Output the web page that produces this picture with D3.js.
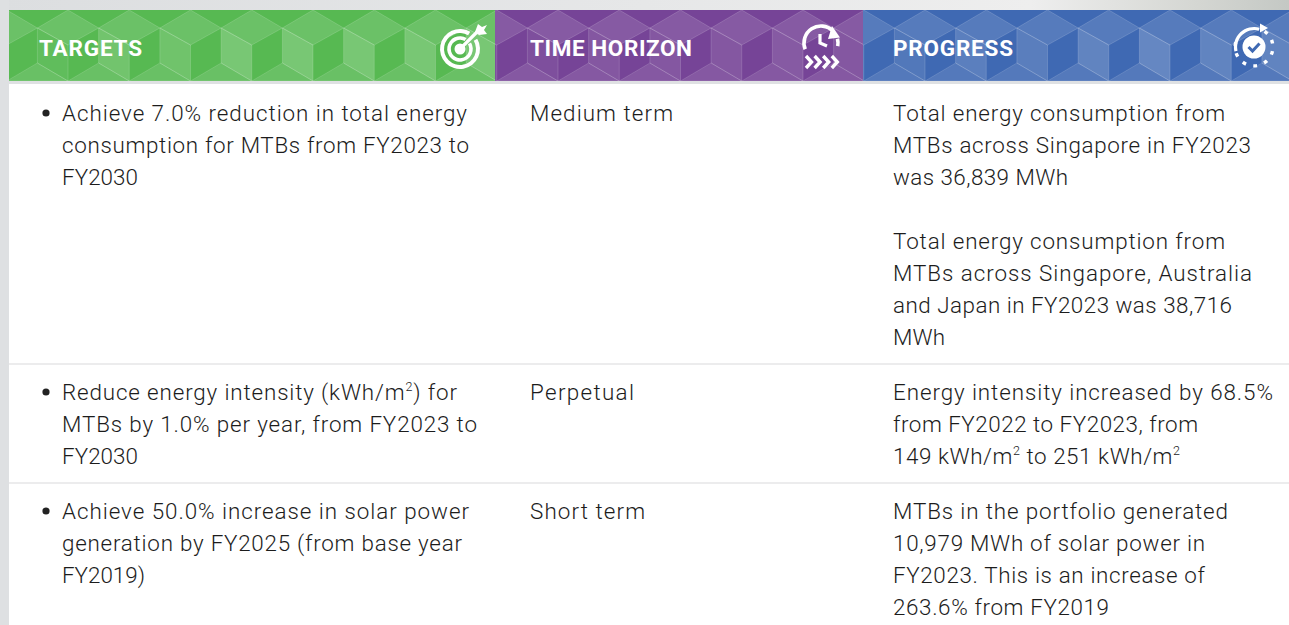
<!DOCTYPE html>
<html><head><meta charset="utf-8">
<script src="https://cdnjs.cloudflare.com/ajax/libs/d3/7.8.5/d3.min.js"></script>
<style>html,body{margin:0;padding:0;background:#fff;overflow:hidden}svg{display:block}</style>
</head><body><svg id="c" width="1289" height="625"></svg>
<script>
// ---- content ----
const headers = ["TARGETS", "TIME HORIZON", "PROGRESS"];
const targetLines = [
  ["Achieve 7.0% reduction in total energy", "consumption for MTBs from FY2023 to", "FY2030"],
  ["Reduce energy intensity (kWh/m^2) for", "MTBs by 1.0% per year, from FY2023 to", "FY2030"],
  ["Achieve 50.0% increase in solar power", "generation by FY2025 (from base year", "FY2019)"]
];
const horizons = ["Medium term", "Perpetual", "Short term"];
const progressLines = [
  ["Total energy consumption from", "MTBs across Singapore in FY2023", "was 36,839 MWh", "", "Total energy consumption from", "MTBs across Singapore, Australia", "and Japan in FY2023 was 38,716", "MWh"],
  ["Energy intensity increased by 68.5%", "from FY2022 to FY2023, from", "149 kWh/m^2 to 251 kWh/m^2"],
  ["MTBs in the portfolio generated", "10,979 MWh of solar power in", "FY2023. This is an increase of", "263.6% from FY2019"]
];
// ---- layout ----
const targetEnds = [[467,469,138],[457,477,138],[469,462,145]];
const horizonEnds = [673,634,645];
const progressEnds = [[1225,1251,1068,0,1225,1252,1232,945],[1273,1198,1180],[1228,1205,1205,1109]];
const headerEnds = [142,692,1013];
const W = 1289, H = 625;
const svg = d3.select("#c");
const FONT = "Roboto";
const defs = svg.append("defs");
const g1 = defs.append("linearGradient").attr("id","topbg").attr("x1",0).attr("x2",1).attr("y1",0).attr("y2",0);
[[0,"#dcdee0"],[.5,"#e6e7e8"],[.8,"#eeeeee"],[.93,"#d4d6d2"],[1,"#c4c8c4"]].forEach(s=>g1.append("stop").attr("offset",s[0]).attr("stop-color",s[1]));
svg.append("rect").attr("width",W).attr("height",H).attr("fill","#fff");
svg.append("rect").attr("width",W).attr("height",10).attr("fill","url(#topbg)");
svg.append("rect").attr("width",9).attr("height",H).attr("fill","#dee0e2");
svg.append("rect").attr("x",9).attr("y",81).attr("width",W-9).attr("height",3).attr("fill","#dfe1e3");

function fit(t, x, end){
  if(!end) return;
  const n=t.text().length, len=t.node().getComputedTextLength();
  t.attr("letter-spacing",(end-x-len)/Math.max(n-1,1));
}

const cols = [
  {x:9,  w:486, base:"#57b952", apex0:68,  label:39, n:8},
  {x:495,w:368, base:"#764497", apex0:558, label:530, n:6},
  {x:863,w:426, base:"#3f69b3", apex0:925, label:893, n:7}
];
const period = 61.25, yTop=10, yBot=81, qh=18, yMid=45, yLo=63;
const faceOpacity = [[.06,.16,.15,.2,.2,.2,.2,.2],[.06,.1,.1,.1,.12,.1],[.1,.15,.14,.18,.2,.18,.18]];
cols.forEach((c,i)=>{
  const id="clip"+i;
  defs.append("clipPath").attr("id",id).append("rect").attr("x",c.x).attr("y",yTop).attr("width",c.w).attr("height",yBot-yTop);
  const g=svg.append("g").attr("clip-path",`url(#${id})`);
  g.append("rect").attr("x",c.x).attr("y",yTop).attr("width",c.w).attr("height",yBot-yTop).attr("fill",c.base);
  const ks=d3.range(-1,c.n);
  const p=period/2;
  const line=d3.line();
  g.selectAll(".t").data(ks).join("path").attr("d",k=>{const a=c.apex0+k*period;return line([[a,yTop],[a+p,yTop+qh],[a,yMid],[a-p,yTop+qh]])+"Z";})
    .attr("fill","#fff").attr("fill-opacity",.12).attr("stroke","#fff").attr("stroke-opacity",.22).attr("stroke-width",.7);
  g.selectAll(".l").data(ks).join("path").attr("d",k=>{const a=c.apex0+k*period;return line([[a-p,yTop+qh],[a,yMid],[a,yBot],[a-p,yLo]])+"Z";})
    .attr("fill","#fff").attr("fill-opacity",k=>faceOpacity[i][Math.max(k,0)]).attr("stroke","#fff").attr("stroke-opacity",.22).attr("stroke-width",.7);
  g.selectAll(".b").data(ks).join("path").attr("d",k=>{const a=c.apex0+k*period+p;return line([[a,yLo],[a+p,yBot],[a-p,yBot]])+"Z";})
    .attr("fill","#fff").attr("fill-opacity",.11).attr("stroke","#fff").attr("stroke-opacity",.2).attr("stroke-width",.7);
  const t=svg.append("text").attr("x",c.label).attr("y",56).text(headers[i])
    .attr("font-family",FONT).attr("font-weight",700).attr("font-size",22.5).attr("fill","#fff");
  fit(t,c.label,headerEnds[i]);
});

// icons
const arc=d3.arc();
const PI=Math.PI;
function ring(g,r,w,a0,a1,round){g.append("path").attr("d",arc({innerRadius:r-w/2,outerRadius:r+w/2,startAngle:a0,endAngle:a1,cornerRadius:round?w/2:0})).attr("fill","#fff");}
{const g=svg.append("g").attr("transform","translate(460,49)");
 ring(g,18,4,PI*.33,PI*2.17);
 ring(g,11,3.6,PI*.33,PI*2.17);
 g.append("circle").attr("r",5.5).attr("fill","#fff");
 g.append("line").attr("x1",0).attr("y1",0).attr("x2",19).attr("y2",-19).attr("stroke","#fff").attr("stroke-width",3.2);
 g.append("path").attr("d","M15,-17L18,-25L22,-22L27,-24L24,-19L27,-15L19,-14Z").attr("fill","#fff");
}
{const g=svg.append("g").attr("transform","translate(821,43)");
 ring(g,17,3.6,-PI*.62,PI*.25);
 ring(g,17,3.6,PI*.42,PI*.56);
 g.append("path").attr("d","M11,-17L19,-5.5L7,-4Z").attr("fill","#fff");
 g.append("path").attr("d","M-1,-9V0L6,3").attr("fill","none").attr("stroke","#fff").attr("stroke-width",3.2);
 g.selectAll(".ch").data(d3.range(4)).join("path")
  .attr("d",k=>{const x=-15+k*8.6;return `M${x},13L${x+5.5},19L${x},25`;})
  .attr("fill","none").attr("stroke","#fff").attr("stroke-width",3.4);
}
{const g=svg.append("g").attr("transform","translate(1254,47)");
 ring(g,18.5,3.2,-PI*.57,PI*.09,true);
 g.selectAll(".d").data(d3.range(8)).join("path")
  .attr("d",k=>{const a=PI*(.22+k*.19);return arc({innerRadius:17.2,outerRadius:20.6,startAngle:a-.1,endAngle:a+.1,cornerRadius:1.7});})
  .attr("fill","#fff");
 g.append("circle").attr("r",11.5).attr("fill","#fff");
 g.append("path").attr("d","M-5.5,0L-1.5,4L5.5,-3.5").attr("fill","none").attr("stroke","#3f69b3").attr("stroke-width",3);
 g.append("path").attr("d","M6,-23.5L14,-19L6,-14.5Z").attr("fill","#fff");
}

// table
const rowBase = [121, 400, 519];
const lh = 32;
const ruleY = [364, 483];
svg.selectAll(".rule").data(ruleY).join("line").attr("x1",9).attr("x2",W).attr("y1",d=>d).attr("y2",d=>d)
  .attr("stroke","#d9dadb").attr("stroke-width",1.2);
const fs=22.4;
function put(lines, ends, x, base){
  lines.forEach((ln,j)=>{
    if(!ln) return;
    const t=svg.append("text").attr("x",x).attr("y",base+j*lh)
      .attr("font-family",FONT).attr("font-weight",300).attr("font-size",fs).attr("fill","#1c1c1c");
    let pendingDrop=false;
    ln.split("^2").forEach((part,n,arr)=>{
      if(part){
        const s=t.append("tspan").text(part);
        if(pendingDrop){s.attr("dy",9);pendingDrop=false;}
      }
      if(n<arr.length-1){
        t.append("tspan").attr("dy",pendingDrop?0:-9).attr("font-size",12.5).text("2");
        pendingDrop=true;
      }
    });
    fit(t,x,ends[j]);
  });
}
svg.selectAll(".bul").data(rowBase).join("circle").attr("cx",46).attr("cy",d=>d-8).attr("r",3.6).attr("fill","#222");
targetLines.forEach((l,i)=>put(l,targetEnds[i],62,rowBase[i]));
horizons.forEach((l,i)=>put([l],[horizonEnds[i]],530,rowBase[i]));
progressLines.forEach((l,i)=>put(l,progressEnds[i],893,rowBase[i]));
</script></body></html>
